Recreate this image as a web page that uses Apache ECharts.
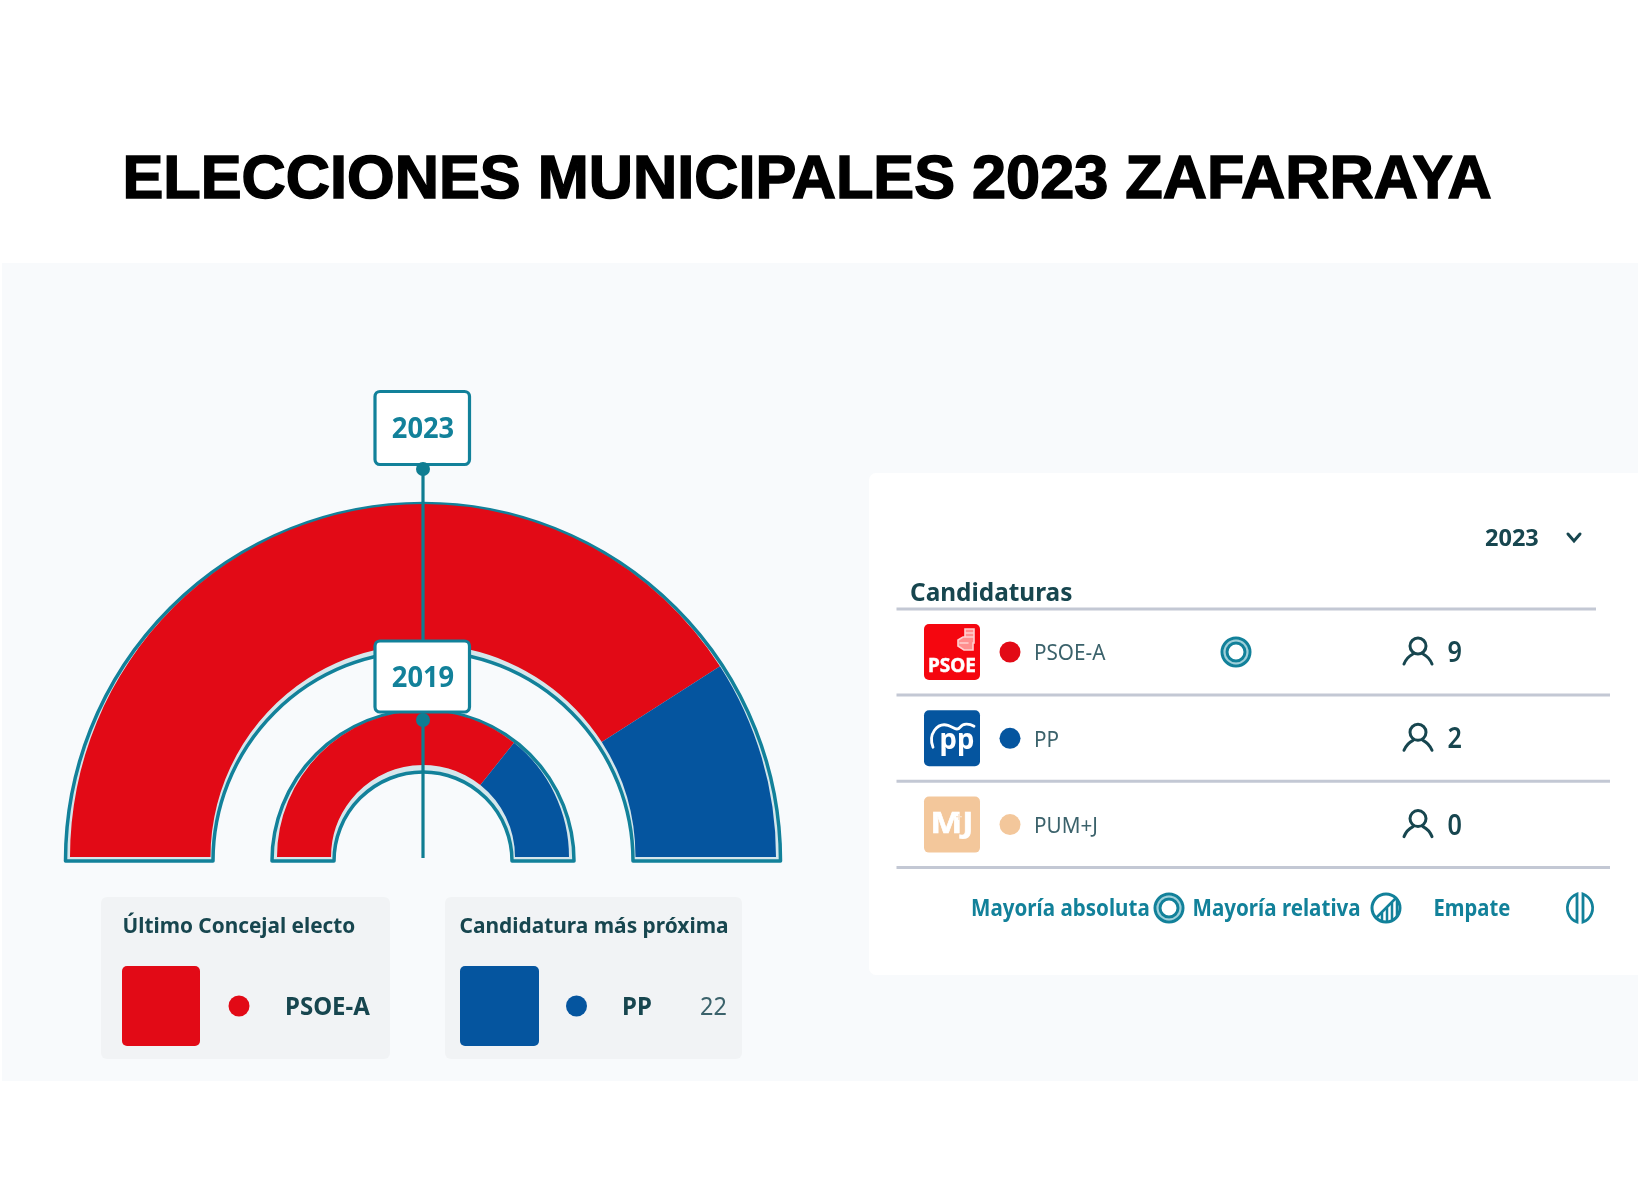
<!DOCTYPE html>
<html lang="es">
<head>
<meta charset="utf-8">
<title>Elecciones municipales 2023 Zafarraya</title>
<script src="https://cdn.jsdelivr.net/npm/echarts@6/dist/echarts.min.js"></script>
<style>
  html, body { margin: 0; padding: 0; background: #fff; }
  #main { width: 1644px; height: 1191px; }
</style>
</head>
<body>
<div id="main"></div>
<script>
const chartTitle = "ELECCIONES MUNICIPALES 2023 ZAFARRAYA";
const candidates = ["PSOE-A", "PP", "PUM+J"];
const seats2023 = [9, 2, 0];
const seats2019 = [5, 2, 0];
const years = ["2023", "2019"];
const partyColors = ["#e20a16", "#05559f", "#f3c79b"];
const lastElected = "PSOE-A";
const closest = "PP";
const closestVotes = "22";
const legendLabels = ["Mayoría absoluta", "Mayoría relativa", "Empate"];

const TEAL = "#12819a";
const DARK = "#17464f";
const SOFT = "#3b626b";
const RULE = "#c3c8d4";
const FONT = '"Noto Sans", sans-serif';
const CX = 423;

function text(x, y, str, size, color, weight, opts) {
  const o = opts || {};
  return {
    type: "text",
    x: x,
    y: y,
    z: o.z || 20,
    scaleX: o.scaleX || 0.94,
    scaleY: o.scaleY || 1,
    silent: true,
    style: {
      text: str,
      fill: color,
      stroke: o.stroke || null,
      lineWidth: o.stroke ? o.strokeWidth : 0,
      font: `${weight} ${size}px ${o.font || FONT}`,
      align: o.align || "left",
      verticalAlign: "middle",
    },
  };
}

function rect(x, y, w, h, r, fill, z, stroke) {
  return {
    type: "rect",
    z: z,
    silent: true,
    shape: { x: x, y: y, width: w, height: h, r: r },
    style: { fill: fill, stroke: stroke || null, lineWidth: stroke ? 3.2 : 0 },
  };
}

function dot(x, y, r, fill) {
  return {
    type: "circle",
    z: 20,
    silent: true,
    shape: { cx: x, cy: y, r: r },
    style: { fill: fill },
  };
}

function ringLine(x, y, r, width, color) {
  return {
    type: "circle",
    z: 20,
    silent: true,
    shape: { cx: x, cy: y, r: r },
    style: { fill: "none", stroke: color || TEAL, lineWidth: width },
  };
}

function hline(x1, x2, y) {
  return {
    type: "line",
    z: 5,
    silent: true,
    shape: { x1: x1, y1: y, x2: x2, y2: y },
    style: { stroke: RULE, lineWidth: 3 },
  };
}

// the graphic component has no plain "path" type, so each icon gets its own shape class
let iconCount = 0;
function pathIcon(d, stroke, width, fill) {
  iconCount += 1;
  const name = `icon${iconCount}`;
  echarts.graphic.registerShape(name, echarts.graphic.extendPath(d, {}));
  return {
    type: name,
    z: 20,
    silent: true,
    style: { fill: fill || "none", stroke: stroke, lineWidth: width, lineCap: "round" },
  };
}

function absoluteIcon(x, y) {
  return [
    ringLine(x, y, 11.5, 2.5, "#9fd0da"),
    ringLine(x, y, 14, 3),
    ringLine(x, y, 9, 3),
  ];
}

function personIcon(x, y) {
  return [
    ringLine(x, y - 6, 8, 3, DARK),
    pathIcon(
      `M${x - 14} ${y + 12} C${x - 12} ${y + 7} ${x - 9} ${y + 4} ${x - 5} ${y + 2} `
        + `M${x + 14} ${y + 12} C${x + 12} ${y + 7} ${x + 9} ${y + 4} ${x + 5} ${y + 2}`,
      DARK,
      3
    ),
  ];
}

function relativeIcon(x, y) {
  return [
    ringLine(x, y, 14, 3),
    pathIcon(`M${x - 10} ${y + 10} L${x + 10} ${y - 10}`, TEAL, 2.5),
    pathIcon(
      `M${x - 4} ${y + 13} V${y + 5} M${x + 1} ${y + 13} V${y} M${x + 6} ${y + 11} V${y - 5} M${x + 11} ${y + 8} V${y - 8}`,
      TEAL,
      2.5
    ),
  ];
}

function tieIcon(x, y) {
  return [
    pathIcon(`M${x - 3} ${y - 14} A15 15 0 0 0 ${x - 3} ${y + 14} Z`, TEAL, 2.8),
    pathIcon(`M${x + 3} ${y - 14} A15 15 0 0 1 ${x + 3} ${y + 14} Z`, TEAL, 2.8),
  ];
}

function logo(i, top) {
  const x = 924;
  const items = [rect(x, top, 56, 56, 5, i === 0 ? "#f5060f" : partyColors[i], 10)];
  if (i === 0) {
    items.push(text(x + 28, top + 42, "PSOE", 20, "#fff", "bold", {
      align: "center",
      scaleX: 0.95,
      stroke: "#fff",
      strokeWidth: 0.5,
    }));
    items.push(pathIcon(
      `M${x + 41} ${top + 5} h9 v14 h-1 v7 h-9 l-6 -4 v-6 l5 -3 h2 Z M${x + 42} ${top + 9} h7 M${x + 42} ${top + 13} h7 M${x + 36} ${top + 19} h8`,
      "#ffd0d0", 1.6, "#ff8f8f"
    ));
  } else if (i === 1) {
    items.push(text(x + 33, top + 30, "pp", 29, "#fff", "bold", { align: "center", scaleX: 0.95 }));
    items.push(pathIcon(
      `M${x + 9} ${top + 37} C${x + 4} ${top + 24} ${x + 13} ${top + 12} ${x + 24} ${top + 15} C${x + 30} ${top + 17} ${x + 33} ${top + 21} ${x + 36} ${top + 17} C${x + 39} ${top + 13} ${x + 45} ${top + 13} ${x + 50} ${top + 16}`,
      "#fff", 2.8
    ));
  } else {
    items.push(text(x + 28, top + 28, "MJ", 28, "#fff", "bold", {
      align: "center",
      scaleX: 1.2,
      stroke: "#fff",
      strokeWidth: 0.6,
    }));
    items.push(text(x + 35, top + 21, "+", 12, "#f9e3cd", "bold", { align: "center", scaleX: 1 }));
  }
  return items;
}

const elements = [
  // page panels
  rect(2, 263, 1636, 818, 0, "#f8fafc", 0),
  rect(869, 473, 775, 502, 7, "#ffffff", 1),
  rect(101, 897, 289, 162, 6, "#f1f3f5", 1),
  rect(445, 897, 297, 162, 6, "#f1f3f5", 1),

  text(122.5, 181, chartTitle, 61, "#000", "bold", {
    font: '"Liberation Sans", Arial, sans-serif',
    scaleX: 1.004,
    stroke: "#000",
    strokeWidth: 1.5,
  }),

  // year markers over the hemicycles
  {
    type: "line",
    z: 12,
    silent: true,
    shape: { x1: CX, y1: 465, x2: CX, y2: 858 },
    style: { stroke: "#0f7d92", lineWidth: 3.2 },
  },
  dot(CX, 469, 7, "#0f7d92"),
  dot(CX, 720, 7, "#0f7d92"),
  rect(375, 391.5, 94.5, 73, 5, "#fff", 15, TEAL),
  rect(375, 641, 94.5, 71, 5, "#fff", 15, TEAL),
  text(CX, 430, years[0], 29, TEAL, "bold", { align: "center" }),
  text(CX, 679, years[1], 29, TEAL, "bold", { align: "center" }),

  // bottom boxes
  text(122.5, 926.5, "Último Concejal electo", 22, DARK, "bold", { scaleX: 0.945 }),
  rect(122, 966, 78, 80, 5, partyColors[0], 10),
  dot(239, 1006, 10.5, partyColors[0]),
  text(285, 1008, lastElected, 25, DARK, "bold", { scaleX: 0.96 }),
  text(459.5, 926.5, "Candidatura más próxima", 22, DARK, "bold", { scaleX: 0.95 }),
  rect(460, 966, 79, 80, 5, partyColors[1], 10),
  dot(576.5, 1006, 10.5, partyColors[1]),
  text(622, 1008, closest, 25, DARK, "bold", { scaleX: 0.96 }),
  text(727, 1008, closestVotes, 25, SOFT, "normal", { align: "right" }),

  // candidaturas table
  text(1485, 539.5, years[0], 24, DARK, "bold", { scaleX: 0.98 }),
  pathIcon("M1568 534 L1574 541 L1580 534", DARK, 3),
  text(910, 593.5, "Candidaturas", 25, DARK, "bold", { scaleX: 0.975 }),
  hline(896.5, 1596, 609),
];

candidates.forEach(function (name, i) {
  const rowY = 652 + i * 86.3;
  elements.push(...logo(i, rowY - 28));
  elements.push(dot(1010, rowY, 10.5, partyColors[i]));
  elements.push(text(1034, rowY + 2, name, 22, SOFT, "normal"));
  elements.push(...personIcon(1418, rowY));
  elements.push(text(1447.5, rowY + 2, String(seats2023[i]), 28, DARK, "600", { scaleX: 0.9 }));
  elements.push(hline(896.5, 1610, rowY + 43));
});
elements.push(...absoluteIcon(1236, 652));

// legend under the table
elements.push(text(971, 909, legendLabels[0], 23, TEAL, "bold", { scaleX: 0.895 }));
elements.push(...absoluteIcon(1169, 908));
elements.push(text(1192.5, 909, legendLabels[1], 23, TEAL, "bold", { scaleX: 0.895 }));
elements.push(...relativeIcon(1386, 908));
elements.push(text(1433.5, 909, legendLabels[2], 23, TEAL, "bold", { scaleX: 0.88 }));
elements.push(...tieIcon(1580, 908));

function ringData(values) {
  return candidates.map(function (name, i) {
    return { name: name, value: values[i], itemStyle: { color: partyColors[i] } };
  });
}

function sum(values) {
  return values.reduce(function (a, b) {
    return a + b;
  }, 0);
}

function outlineSeries(values, radius) {
  return {
    type: "pie",
    silent: true,
    z: 2,
    center: [CX, 861],
    radius: radius,
    startAngle: 180,
    endAngle: 0,
    label: { show: false },
    labelLine: { show: false },
    itemStyle: { color: "#d5e6eb", borderColor: TEAL, borderWidth: 3.5 },
    data: [{ name: "outline", value: sum(values) }],
  };
}

function ringSeries(values, radius) {
  return {
    type: "pie",
    silent: true,
    z: 3,
    center: [CX, 857],
    radius: radius,
    startAngle: 180,
    endAngle: 0,
    label: { show: false },
    labelLine: { show: false },
    data: ringData(values),
  };
}

const myChart = echarts.init(document.getElementById("main"), null, { renderer: "canvas" });

myChart.setOption({
  animation: false,
  backgroundColor: "#ffffff",
  tooltip: { show: false },
  graphic: { elements: elements },
  series: [
    outlineSeries(seats2023, [210, 357.5]),
    ringSeries(seats2023, [212.5, 353]),
    outlineSeries(seats2019, [89, 151]),
    ringSeries(seats2019, [92, 146]),
  ],
});
</script>
</body>
</html>
